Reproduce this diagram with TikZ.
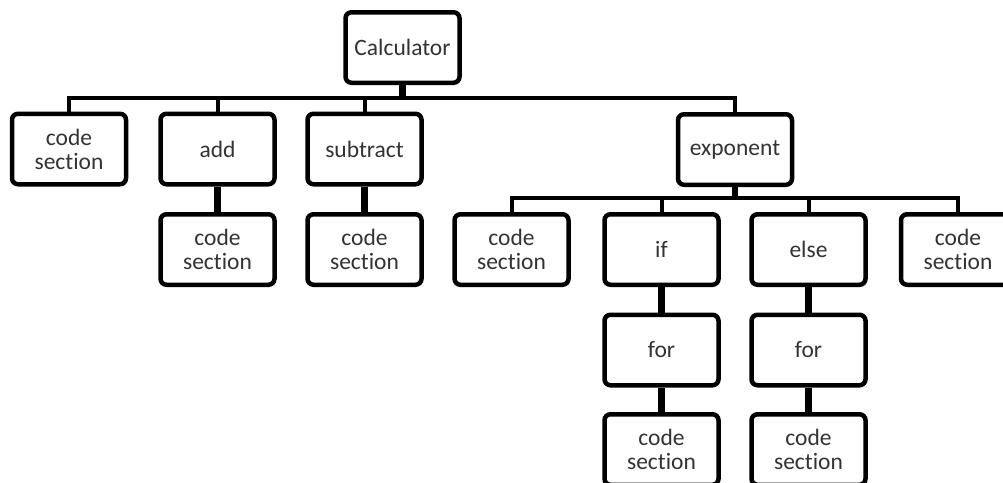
\documentclass[tikz,border=0pt]{standalone}
\usepackage{fontspec}
\setmainfont{Carlito}[Ligatures={NoCommon,NoContextual,NoRequired}]
\begin{document}
\begin{tikzpicture}[x=1pt,y=-1pt,
  box/.style={draw=black,line width=4.5pt,rounded corners=6pt,minimum width=114pt,minimum height=70.5pt,inner sep=0pt,align=center,text=black!80,font=\fontsize{23.5}{24}\selectfont},
  conn/.style={draw=black,line width=4pt,line join=miter},
  stub/.style={draw=black,line width=6.5pt}]
\clip (0,0) rectangle (1003,482);
\fill[white] (0,0) rectangle (1003,482);
% root
\node[box] (calc) at (402.5,47.5) {Calculator};
% level 1
\node[box] (cs1) at (69,149) {code\\section};
\node[box] (add) at (217.5,149) {add};
\node[box] (sub) at (364.5,149) {subtract};
\node[box] (exp) at (735,149.5) {exponent};
% level 2
\node[box] (addc) at (217.5,249.5) {code\\section};
\node[box] (subc) at (364.5,249.5) {code\\section};
\node[box] (cs2) at (511.5,249.5) {code\\section};
\node[box] (if) at (661.5,249.5) {if};
\node[box] (else) at (808.5,249.5) {else};
\node[box] (cs3) at (958,249.5) {code\\section};
% level 3
\node[box] (for1) at (661.5,350) {for};
\node[box] (for2) at (808.5,350) {for};
% level 4
\node[box] (cs4) at (661.5,449.5) {code\\section};
\node[box] (cs5) at (808.5,449.5) {code\\section};
% buses
\coordinate (b1) at (0,98);
\coordinate (b2) at (0,198);
\draw[stub] (calc.south) -- (calc.south |- b1);
\draw[conn] (cs1.north) -- (cs1.north |- b1) -- (exp.north |- b1) -- (exp.north);
\draw[conn] (add.north) -- (add.north |- b1);
\draw[conn] (sub.north) -- (sub.north |- b1);
\draw[stub] (exp.south) -- (exp.south |- b2);
\draw[conn] (cs2.north) -- (cs2.north |- b2) -- (cs3.north |- b2) -- (cs3.north);
\draw[conn] (if.north) -- (if.north |- b2);
\draw[conn] (else.north) -- (else.north |- b2);
% vertical chains
\draw[stub] (add) -- (addc);
\draw[stub] (sub) -- (subc);
\draw[stub] (if) -- (for1);
\draw[stub] (for1) -- (cs4);
\draw[stub] (else) -- (for2);
\draw[stub] (for2) -- (cs5);
\end{tikzpicture}
\end{document}
